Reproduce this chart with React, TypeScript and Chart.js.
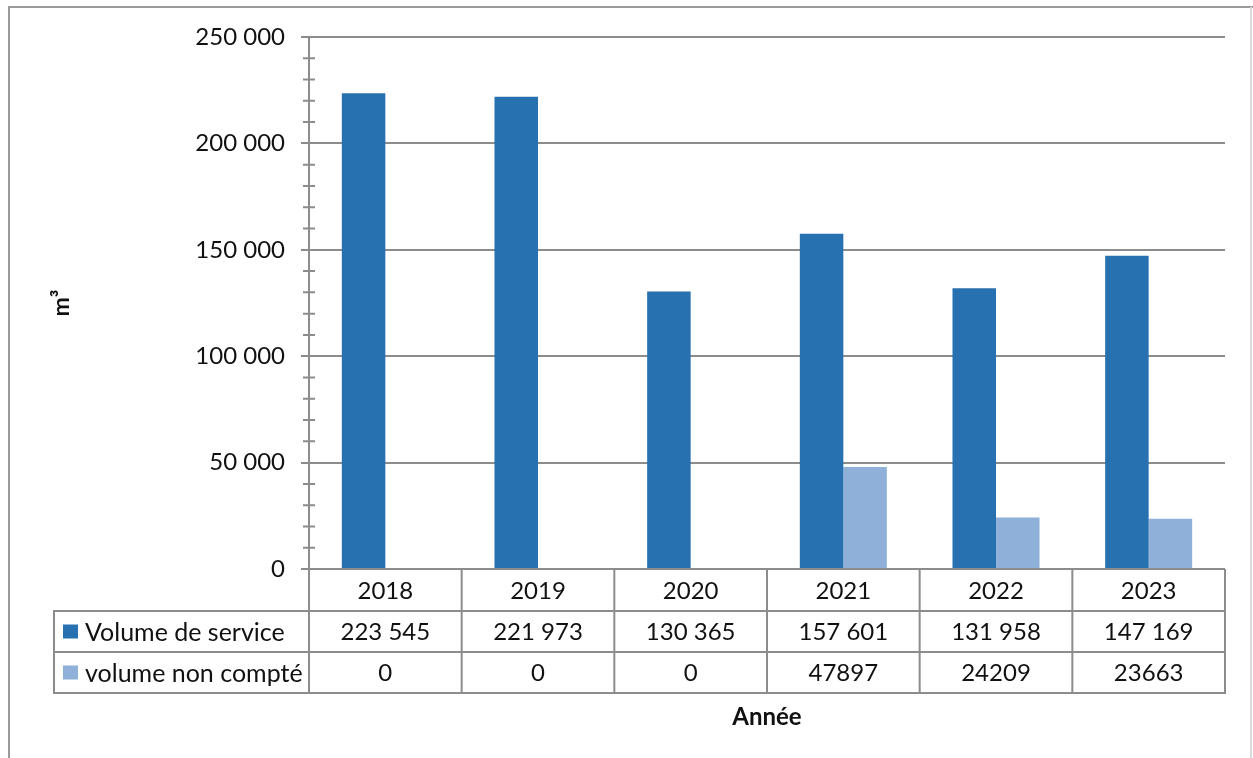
import React, { useEffect, useRef } from "react";
import { Chart, registerables } from "chart.js";

Chart.register(...registerables);

const categories = ["2018", "2019", "2020", "2021", "2022", "2023"];
const seriesNames = ["Volume de service", "volume non compté"];
const volumeService = [223545, 221973, 130365, 157601, 131958, 147169];
const volumeNonCompte = [0, 0, 0, 47897, 24209, 23663];
const yMin = 0;
const yMax = 250000;
const yStep = 50000;
const yMinorStep = 10000;
const xTitle = "Année";
const yTitle = "m³";

const COLORS = ["#2771B0", "#8EB0D9"];
const GRID = "#8c8c8c";
const TEXT = "#111111";
const FONT = "Lato, 'Open Sans', sans-serif";

const spaced = (v: number) => String(v).replace(/\B(?=(\d{3})+(?!\d))/g, " ");
const tableRows = [
  volumeService.map(spaced),
  volumeNonCompte.map((v) => String(v)),
];

const tablePlugin = {
  id: "dataTable",
  beforeDraw(chart: any) {
    const { ctx, width, height } = chart;
    ctx.save();
    ctx.fillStyle = "#ffffff";
    ctx.fillRect(0, 0, width, height);
    ctx.lineWidth = 2;
    ctx.strokeStyle = "#9a9a9a";
    ctx.beginPath();
    ctx.moveTo(9, height + 5);
    ctx.lineTo(9, 7);
    ctx.lineTo(width, 7);
    ctx.stroke();
    ctx.strokeStyle = "#dcdcdc";
    ctx.beginPath();
    ctx.moveTo(1251, 7);
    ctx.lineTo(1251, height + 5);
    ctx.stroke();
    ctx.restore();
  },
  afterDraw(chart: any) {
    const { ctx, chartArea } = chart;
    const x = chart.scales.x;
    const y = chart.scales.y;
    const left = chartArea.left;
    const right = chartArea.right;
    const bottom = chartArea.bottom;
    const headerH = 42;
    const rowH = 41;
    const tableLeft = 54;
    const r0 = bottom;
    const r1 = r0 + headerH;
    const r2 = r1 + rowH;
    const r3 = r2 + rowH;
    const n = categories.length;
    const colW = (right - left) / n;

    ctx.save();
    ctx.strokeStyle = GRID;
    ctx.lineWidth = 2;
    // minor ticks
    ctx.beginPath();
    for (let v = yMin; v <= yMax; v += yMinorStep) {
      if (v % yStep === 0) continue;
      const py = y.getPixelForValue(v);
      ctx.moveTo(left - 6, py);
      ctx.lineTo(left + 6, py);
    }
    ctx.stroke();

    // table grid
    ctx.beginPath();
    for (let i = 0; i <= n; i++) {
      const px = left + i * colW;
      ctx.moveTo(px, r0);
      ctx.lineTo(px, r3);
    }
    ctx.moveTo(tableLeft, r1);
    ctx.lineTo(tableLeft, r3);
    [r1, r2, r3].forEach((ry) => {
      ctx.moveTo(tableLeft - 1, ry);
      ctx.lineTo(right + 1, ry);
    });
    ctx.stroke();

    // texts
    ctx.fillStyle = TEXT;
    ctx.font = `24px ${FONT}`;
    ctx.textAlign = "center";
    ctx.textBaseline = "middle";
    categories.forEach((c, i) => {
      ctx.fillText(c, x.getPixelForValue(i), (r0 + r1) / 2 + 1);
    });
    tableRows.forEach((row, ri) => {
      const cy = r1 + rowH * ri + rowH / 2 + 1;
      row.forEach((t, i) => {
        ctx.fillText(t, x.getPixelForValue(i), cy);
      });
    });
    ctx.font = `25px ${FONT}`;
    seriesNames.forEach((name, ri) => {
      const cy = r1 + rowH * ri + rowH / 2;
      ctx.fillStyle = COLORS[ri];
      ctx.fillRect(63, cy - 7, 15, 14);
      ctx.fillStyle = TEXT;
      ctx.textAlign = "left";
      ctx.fillText(name, 85, cy + 1);
    });

    // axis titles
    ctx.font = `bold 24px ${FONT}`;
    ctx.textAlign = "center";
    ctx.fillText(xTitle, (left + right) / 2, 717);
    ctx.save();
    ctx.translate(62, (chartArea.top + bottom) / 2);
    ctx.rotate(-Math.PI / 2);
    ctx.font = `bold 23px ${FONT}`;
    ctx.fillText(yTitle, 0, 0);
    ctx.restore();
    ctx.restore();
  },
};

export default function App() {
  const ref = useRef<HTMLCanvasElement | null>(null);
  useEffect(() => {
    document.body.style.margin = "0";
    const canvas = ref.current;
    if (!canvas) return;
    const chart = new Chart(canvas, {
      type: "bar",
      data: {
        labels: categories,
        datasets: [
          {
            label: seriesNames[0],
            data: volumeService,
            backgroundColor: COLORS[0],
            barPercentage: 1,
            categoryPercentage: 0.57,
          },
          {
            label: seriesNames[1],
            data: volumeNonCompte,
            backgroundColor: COLORS[1],
            barPercentage: 1,
            categoryPercentage: 0.57,
          },
        ],
      },
      options: {
        animation: false,
        responsive: false,
        layout: { padding: { top: 37, right: 28, bottom: 189, left: 0 } },
        plugins: {
          legend: { display: false },
          tooltip: { enabled: false },
          title: { display: false },
        },
        scales: {
          x: { display: false },
          y: {
            min: yMin,
            max: yMax,
            afterFit: (s: any) => {
              s.width = 309;
            },
            ticks: {
              stepSize: yStep,
              padding: 16,
              color: TEXT,
              font: { family: FONT, size: 24 },
              callback: (v: any) => spaced(Number(v)),
            },
            grid: { color: GRID, lineWidth: 2, tickLength: 8, drawTicks: true },
            border: { display: true, color: GRID, width: 2 },
          },
        },
      },
      plugins: [tablePlugin],
    });
    return () => chart.destroy();
  }, []);
  return (
    <div style={{ position: "fixed", left: 0, top: 0, width: 1253, height: 758, background: "#fff" }}>
      <canvas ref={ref} width={1253} height={758} style={{ width: 1253, height: 758, display: "block" }} />
    </div>
  );
}
